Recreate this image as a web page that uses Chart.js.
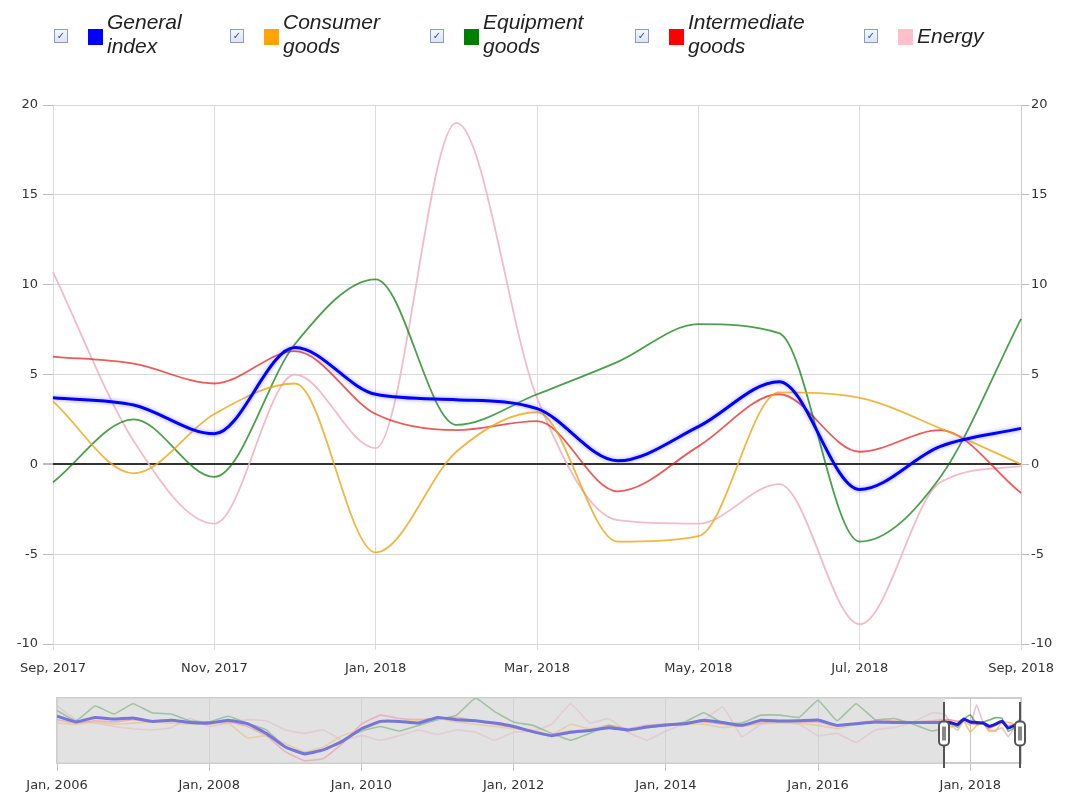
<!DOCTYPE html>
<html>
<head>
<meta charset="utf-8">
<script src="https://cdn.jsdelivr.net/npm/chart.js@4/dist/chart.umd.min.js"></script>
<style>
  body { margin: 0; background: #fff; width: 1065px; height: 794px; overflow: hidden; position: relative; }
  #legend { position: absolute; left: 0; top: 0; width: 1065px; height: 70px; }
  .item { position: absolute; top: 10px; height: 50px; }
  .chk { position: absolute; top: 19px; left: 0; width: 12px; height: 12px; border: 1px solid #8a9cc0;
         background: linear-gradient(#f4f6fb, #dde4f2); font: bold 10px 'DejaVu Sans'; color: #2b4fa8;
         text-align: center; line-height: 12px; }
  .sw { position: absolute; top: 19px; left: 34px; width: 15px; height: 16px; }
  .txt { position: absolute; left: 53px; top: 0px; font: italic 21px 'Liberation Sans', sans-serif; line-height: 24px;
         color: #222; white-space: nowrap; }
  #main { position: absolute; left: 0; top: 0; }
  #nav { position: absolute; left: 0; top: 690px; }
</style>
</head>
<body>
<canvas id="main" width="1065" height="690"></canvas>
<canvas id="nav" width="1065" height="104"></canvas>
<div id="legend"></div>
<script>
// monthly values, Sep 2017 .. Sep 2018 (% change)
var monthLabels = ['Sep, 2017','Oct, 2017','Nov, 2017','Dec, 2017','Jan, 2018','Feb, 2018','Mar, 2018',
                   'Apr, 2018','May, 2018','Jun, 2018','Jul, 2018','Aug, 2018','Sep, 2018'];
var generalIndex      = [3.7, 3.3, 1.7, 6.5, 3.9, 3.6, 3.1, 0.2, 2.1, 4.6, -1.4, 1.0, 2.0];
var consumerGoods     = [3.5, -0.5, 2.8, 4.5, -4.9, 0.7, 2.9, -4.3, -4.0, 4.0, 3.7, 2.0, 0.0];
var equipmentGoods    = [-1.0, 2.5, -0.7, 6.7, 10.3, 2.2, 3.9, 5.7, 7.8, 7.3, -4.3, -0.7, 8.1];
var intermediateGoods = [6.0, 5.6, 4.5, 6.3, 2.8, 1.9, 2.4, -1.5, 1.0, 3.9, 0.7, 1.9, -1.6];
var energy            = [10.7, 1.3, -3.3, 5.0, 0.9, 19.0, 3.7, -3.1, -3.3, -1.1, -8.9, -1.0, -0.1];

// navigator: quarterly readings Jan 2006 .. Jul 2017 (month 0 = Jan 2006)
var navGeneral = [9,4,8,6.5,7.5,4.5,5.5,3.5,3,5.5, 2.5,-6,-18,-24,-20.5,-13,-2,4.5,4.5,3,
                  8,6,5,3,0,-4.5,-8,-5,-3.5,-1, -3,-0.5,1.3,2.5,5.5,3.5,1,5.5,4.8,5, 5.7,1,2.5,4,3.5,3.5,3.5];
var navConsumer = [3,2,4,2,3,4,3,2,2,3, -10,-8,-15,-22,-18,-8,-3,3,5,6,
                   7,4,2,0,-2,-3,-7,2,-2,0, -4,0,1,2,2,-1,1,3,4,3, 1,-2,2,3,4,3,3];
var navEquipment = [14,5,18,11,20,12,11,5,4,9, 3,-3,-18,-23,-20,-12,-4,0,-4,1,
                    6,10,25,13,4,1,-6,-12,-6,1, -4,-1,1,4,12,3,3,10,10,8, 23,5,20,6,7,2,-4];
var navIntermediate = [6,3,5,4,6,4,5,3,4,4, 0,-8,-22,-30,-28,-15,2,10,7,6,
                       7,8,5,2,-1,-5,-7,-4,-3,1, -2,1,2,3,4,2,0,3,4,4, 4,0,3,5,5,4,5];
var navEnergy = [18,6,3,0,-2,-3,-1,7,0,3, 6,5,-3,-6,-3,-12,-8,-12,-8,-3,
                 -7,-3,-5,-12,-5,-4,2,20,3,7, -5,-12,-4,2,6,17,-9,2,3,2, -8,-6,-14,-3,-1,4,12];
var navYears = ['Jan, 2006','Jan, 2008','Jan, 2010','Jan, 2012','Jan, 2014','Jan, 2016','Jan, 2018'];

var seriesNames = [['General', 'index'], ['Consumer', 'goods'], ['Equipment', 'goods'], ['Intermediate', 'goods'], ['Energy']];
var seriesColors = ['#0000ff', '#ffa500', '#008000', '#ff0000', '#ffc0cb'];
var lineColors = ['#0000ff', 'rgba(235,165,20,0.8)', 'rgba(0,120,0,0.7)', 'rgba(230,20,20,0.7)', 'rgba(240,180,195,0.9)'];
var monthlySets = [generalIndex, consumerGoods, equipmentGoods, intermediateGoods, energy];
var navSets = [navGeneral, navConsumer, navEquipment, navIntermediate, navEnergy];
var selStart = 140, selEnd = 152;

// legend
var legendX = [54, 230, 430, 635, 864];
var legend = document.getElementById('legend');
seriesNames.forEach(function (n, i) {
  var d = document.createElement('div');
  d.className = 'item';
  d.style.left = legendX[i] + 'px';
  var t = n.length > 1 ? n.join('<br>') : n[0];
  var top = n.length > 1 ? 0 : 14;
  d.innerHTML = '<div class="chk">\u2713</div><div class="sw" style="background:' + seriesColors[i] +
    '"></div><div class="txt" style="top:' + top + 'px">' + t + '</div>';
  legend.appendChild(d);
});

var fontSpec = { family: 'DejaVu Sans', size: 13 };

var glow = {
  id: 'glow',
  beforeDatasetDraw: function (chart, args) {
    if (args.index === 0) {
      chart.ctx.save();
      chart.ctx.shadowColor = 'rgba(60,60,255,0.5)';
      chart.ctx.shadowBlur = 4;
    }
  },
  afterDatasetDraw: function (chart, args) {
    if (args.index === 0) chart.ctx.restore();
  }
};

new Chart(document.getElementById('main'), {
  type: 'line',
  data: {
    labels: monthLabels,
    datasets: monthlySets.map(function (s, i) {
      return {
        label: seriesNames[i].join(' '),
        data: s,
        borderColor: lineColors[i],
        borderWidth: i === 0 ? 3 : 1.8,
        pointRadius: 0,
        fill: false,
        cubicInterpolationMode: 'monotone'
      };
    })
  },
  options: {
    animation: false,
    responsive: false,
    layout: { padding: { top: 105 } },
    plugins: { legend: { display: false }, tooltip: { enabled: false } },
    scales: {
      x: {
        offset: false,
        grid: {
          color: function (c) { return c.index % 2 ? 'rgba(0,0,0,0)' : '#dcdcdc'; },
          tickLength: 6
        },
        border: { display: false },
        ticks: {
          autoSkip: false, maxRotation: 0, padding: 11, color: '#333', font: fontSpec,
          callback: function (v, i) { return i % 2 ? '' : monthLabels[i]; }
        },
        afterFit: function (s) { s.height = 46; }
      },
      y: {
        min: -10, max: 20,
        grid: {
          color: function (c) { return c.tick && c.tick.value === 0 ? '#333' : '#d8d8d8'; },
          lineWidth: function (c) { return c.tick && c.tick.value === 0 ? 2 : 1; },
          tickColor: '#bbb', tickLength: 10
        },
        border: { display: false },
        ticks: { stepSize: 5, padding: 5, color: '#333', font: fontSpec },
        afterFit: function (s) { s.width = 53; }
      },
      y2: {
        position: 'right', min: -10, max: 20,
        grid: { drawOnChartArea: false, tickColor: '#bbb', tickLength: 8 },
        border: { color: '#ccc' },
        ticks: { stepSize: 5, padding: 2, color: '#333', font: fontSpec },
        afterFit: function (s) { s.width = 40; }
      }
    }
  },
  plugins: [glow]
});

// navigator
var navShade = {
  id: 'navShade',
  beforeDraw: function (chart) {
    var a = chart.chartArea, ctx = chart.ctx, x = chart.scales.x;
    ctx.save();
    ctx.fillStyle = '#e2e2e2';
    ctx.fillRect(a.left, a.top, x.getPixelForValue(selStart) - a.left, a.bottom - a.top);
    ctx.strokeStyle = '#cfcfcf';
    ctx.lineWidth = 2;
    ctx.strokeRect(a.left, a.top, a.right - a.left, a.bottom - a.top);
    ctx.restore();
  },
  afterDatasetsDraw: function (chart) {
    var a = chart.chartArea, ctx = chart.ctx, x = chart.scales.x;
    ctx.save();
    ctx.fillStyle = 'rgba(226,226,226,0.45)';
    ctx.fillRect(a.left, a.top, x.getPixelForValue(selStart) - a.left, a.bottom - a.top);
    ctx.restore();
  },
  afterDraw: function (chart) {
    var a = chart.chartArea, ctx = chart.ctx, x = chart.scales.x;
    var mid = (a.top + a.bottom) / 2 + 3;
    [selStart, selEnd].forEach(function (v) {
      var px = Math.round(x.getPixelForValue(v)) - 1;
      ctx.save();
      ctx.strokeStyle = '#555';
      ctx.lineWidth = 2;
      ctx.beginPath();
      ctx.moveTo(px, a.top + 4);
      ctx.lineTo(px, a.bottom + 5);
      ctx.stroke();
      ctx.fillStyle = '#fff';
      ctx.beginPath();
      ctx.roundRect(px - 5, mid - 12, 10, 24, 4);
      ctx.fill();
      ctx.stroke();
      ctx.fillStyle = '#888';
      ctx.fillRect(px - 2, mid - 7, 4, 14);
      ctx.restore();
    });
  }
};

var navColors = ['#1c1cd8', 'rgba(230,170,60,0.65)', 'rgba(30,130,30,0.6)', 'rgba(240,90,90,0.6)', 'rgba(225,170,185,0.7)'];
new Chart(document.getElementById('nav'), {
  type: 'line',
  data: {
    datasets: navSets.map(function (s, i) {
      var pts = s.map(function (v, k) { return { x: k * 3, y: v }; });
      monthlySets[i].forEach(function (v, k) { pts.push({ x: selStart + k, y: v }); });
      return {
        data: pts,
        borderColor: navColors[i],
        borderWidth: i === 0 ? 3 : 1.6,
        pointRadius: 0,
        tension: 0.1,
        fill: false
      };
    })
  },
  options: {
    animation: false,
    responsive: false,
    layout: { padding: { top: 8, left: 57, right: 44 } },
    plugins: { legend: { display: false }, tooltip: { enabled: false } },
    scales: {
      x: {
        type: 'linear', min: 0, max: 152,
        grid: { color: '#c8c8c8', tickLength: 8, tickColor: '#c8c8c8' },
        border: { display: false },
        ticks: {
          stepSize: 24, includeBounds: false, maxRotation: 0, padding: 7, color: '#333', font: fontSpec,
          callback: function (v) { return v % 24 === 0 ? navYears[v / 24] : ''; }
        },
        afterFit: function (s) { s.height = 31; }
      },
      y: { display: false, min: -32, max: 25 }
    }
  },
  plugins: [navShade]
});
</script>
</body>
</html>
